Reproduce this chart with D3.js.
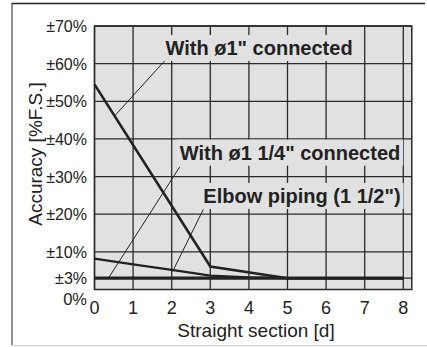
<!DOCTYPE html>
<html>
<head>
<meta charset="utf-8">
<script src="https://cdn.jsdelivr.net/npm/d3@7"></script>
<style>
body { margin: 0; background: #fff; }
svg { display: block; }
</style>
</head>
<body>
<svg id="chart" width="427" height="347"></svg>
<script>
// data
const xTicks = [0, 1, 2, 3, 4, 5, 6, 7, 8]
const yTicks = [3, 10, 20, 30, 40, 50, 60, 70]
const yLabels = ["±3%", "±10%", "±20%", "±30%", "±40%", "±50%", "±60%", "±70%"]

const d1 = [0, 3, 5, 8]
const acc1 = [54.5, 6.1, 3, 3]          // With ø1" connected
const d114 = [0, 1, 2, 3, 4, 5, 8]
const acc114 = [8.2, 6.7, 5.2, 3.7, 3.2, 3, 3]   // With ø1 1/4" connected
const dElbow = [0, 8]
const accElbow = [3, 3]                // Elbow piping (1 1/2")

const labels = ['With ø1" connected', 'With ø1 1/4" connected', 'Elbow piping (1 1/2")']
const labelPos = [[1.84, 62.3], [2.21, 34.5], [2.82, 23.0]]
const leaders = [[[0.53, 46.2], [1.84, 61]], [[0.36, 3], [2.21, 32.6]], [[2.02, 4.7], [2.82, 21.3]]]

const svg = d3.select("#chart")
const x = d3.scaleLinear().domain([0, 8]).range([94.5, 403.3])
const y = d3.scaleLinear().domain([0, 70]).range([289.5, 26])
const xMax = 8.22

// outer frame
svg.append("line").attr("x1", 12).attr("x2", 12).attr("y1", 3).attr("y2", 345).attr("stroke", "#444").attr("stroke-width", 1.2)
svg.append("line").attr("x1", 12).attr("x2", 425).attr("y1", 3.5).attr("y2", 3.5).attr("stroke", "#222").attr("stroke-width", 1.5)
svg.append("line").attr("x1", 12).attr("x2", 427).attr("y1", 345.5).attr("y2", 345.5).attr("stroke", "#ccc").attr("stroke-width", 1)

// plot background
svg.append("rect").attr("x", x(0)).attr("y", y(70)).attr("width", x(xMax) - x(0)).attr("height", y(0) - y(70))
    .attr("fill", "#e1e1e1")

const grid = svg.append("g").attr("stroke", "#2a2a2a").attr("stroke-width", 1.3)
grid.selectAll(".vx").data(xTicks).join("line")
    .attr("x1", d => x(d)).attr("x2", d => x(d)).attr("y1", y(70)).attr("y2", y(0))
grid.selectAll(".hy").data(yTicks).join("line")
    .attr("x1", x(0)).attr("x2", x(xMax)).attr("y1", d => y(d)).attr("y2", d => y(d))
svg.append("rect").attr("x", x(0)).attr("y", y(70)).attr("width", x(xMax) - x(0)).attr("height", y(0) - y(70))
    .attr("fill", "none").attr("stroke", "#2a2a2a").attr("stroke-width", 1.5)

// tick labels
svg.selectAll(".ylab").data(yTicks).join("text")
    .attr("x", 87).attr("y", d => y(d) + 6)
    .attr("text-anchor", "end").attr("font-family", "Liberation Sans, Arial, sans-serif").attr("font-size", 16)
    .attr("fill", "#222").text((d, i) => yLabels[i])
svg.append("text").attr("x", 87).attr("y", 305).attr("text-anchor", "end")
    .attr("font-family", "Liberation Sans, Arial, sans-serif").attr("font-size", 16.5).attr("fill", "#222").text("0%")
svg.selectAll(".xlab").data(xTicks).join("text")
    .attr("x", d => x(d)).attr("y", 314)
    .attr("text-anchor", "middle").attr("font-family", "Liberation Sans, Arial, sans-serif").attr("font-size", 18)
    .attr("fill", "#222").text(d => d)

// axis titles
svg.append("text").attr("x", 256).attr("y", 337).attr("text-anchor", "middle")
    .attr("font-family", "Liberation Sans, Arial, sans-serif").attr("font-size", 19).attr("fill", "#222")
    .text("Straight section [d]")
svg.append("text").attr("transform", "translate(42,154) rotate(-90)").attr("text-anchor", "middle")
    .attr("font-family", "Liberation Sans, Arial, sans-serif").attr("font-size", 19).attr("fill", "#222")
    .text("Accuracy [%F.S.]")

// leader lines
svg.selectAll(".leader").data(leaders).join("line")
    .attr("x1", d => x(d[0][0])).attr("y1", d => y(d[0][1]))
    .attr("x2", d => x(d[1][0])).attr("y2", d => y(d[1][1]))
    .attr("stroke", "#222").attr("stroke-width", 1)

// series
const line = d3.line().x(d => x(d[0])).y(d => y(d[1]))
svg.append("path").datum(d114.map((d, i) => [d, acc114[i]])).attr("d", line)
    .attr("fill", "none").attr("stroke", "#222").attr("stroke-width", 2.3)
svg.append("path").datum(d1.map((d, i) => [d, acc1[i]])).attr("d", line)
    .attr("fill", "none").attr("stroke", "#222").attr("stroke-width", 2.6)
svg.append("path").datum(dElbow.map((d, i) => [d, accElbow[i]])).attr("d", line)
    .attr("fill", "none").attr("stroke", "#222").attr("stroke-width", 3.2)

// annotation labels with background boxes
labels.forEach(function (t, i) {
    var g = svg.append("g")
    var txt = g.append("text").attr("x", x(labelPos[i][0])).attr("y", y(labelPos[i][1]))
        .attr("font-family", "Liberation Sans, Arial, sans-serif").attr("font-weight", "bold")
        .attr("font-size", 20).attr("fill", "#222").text(t)
    var b = txt.node().getBBox()
    g.insert("rect", "text").attr("x", b.x - 3).attr("y", b.y - 2).attr("width", b.width + 6).attr("height", b.height + 4)
        .attr("fill", "#e1e1e1")
})
</script>
</body>
</html>
